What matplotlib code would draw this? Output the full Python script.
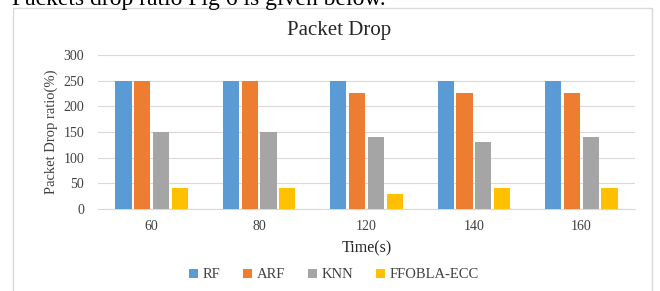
import matplotlib
matplotlib.use("Agg")
import matplotlib.pyplot as plt
import numpy as np
from matplotlib.patches import Rectangle

plt.rcParams['font.family'] = ['Liberation Serif', 'DejaVu Serif']

times = ['60', '80', '120', '140', '160']
series = ['RF', 'ARF', 'KNN', 'FFOBLA-ECC']
rf = [250, 250, 250, 250, 250]
arf = [250, 250, 225, 225, 225]
knn = [150, 150, 140, 130, 140]
ffobla = [40, 40, 30, 40, 40]
colors = ['#5B9BD5', '#ED7D31', '#A5A5A5', '#FFC000']

fig = plt.figure(figsize=(6.6, 2.91), dpi=100)
fig.patch.set_facecolor('white')

# page text cut off at top
fig.text(12 / 660, 1.0, 'Packets drop ratio Fig 6 is given below.', fontsize=17,
         ha='left', va='center', color='black')

# chart frame
fig.patches.append(Rectangle((13 / 660, -0.05), 639 / 660, 1 - 8 / 291 + 0.05,
                             transform=fig.transFigure, fill=False,
                             edgecolor='#d9d9d9', linewidth=1))

ax = fig.add_axes([98 / 660, 1 - 209 / 291, 537 / 660, 154 / 291])
x = np.arange(len(times))
w = 0.15
slot = 0.175
for i, (vals, name) in enumerate(zip([rf, arf, knn, ffobla], series)):
    ax.bar(x + (i - 1.5) * slot, vals, w, color=colors[i], label=name, zorder=3)

ax.set_ylim(0, 300)
ax.set_xlim(-0.5, len(times) - 0.5)
ax.set_yticks(range(0, 301, 50))
ax.set_xticks(x)
ax.set_xticklabels(times)
ax.tick_params(axis='both', length=0, labelsize=10, colors='#404040')
ax.tick_params(axis='y', pad=10)
ax.tick_params(axis='x', pad=8)
ax.grid(axis='y', color='#d9d9d9', linewidth=0.8, zorder=0)
for s in ['top', 'right', 'left']:
    ax.spines[s].set_visible(False)
ax.spines['bottom'].set_color('#d9d9d9')

fig.text(339 / 660, 1 - 30 / 291, 'Packet Drop', fontsize=15, color='#262626',
         ha='center', va='center')
ax.set_xlabel('Time(s)', fontsize=11.5, color='#262626', labelpad=5)
ax.set_ylabel('Packet Drop ratio(%)', fontsize=10.5, color='#404040', labelpad=4)

fig.legend(*ax.get_legend_handles_labels(), loc='center',
           bbox_to_anchor=(334 / 660, 1 - 275 / 291), ncol=4, frameon=False,
           fontsize=10.5, handlelength=0.6, handleheight=0.6, handletextpad=0.3,
           columnspacing=1.6, labelcolor='#404040')

fig.savefig('out.png', dpi=100)
